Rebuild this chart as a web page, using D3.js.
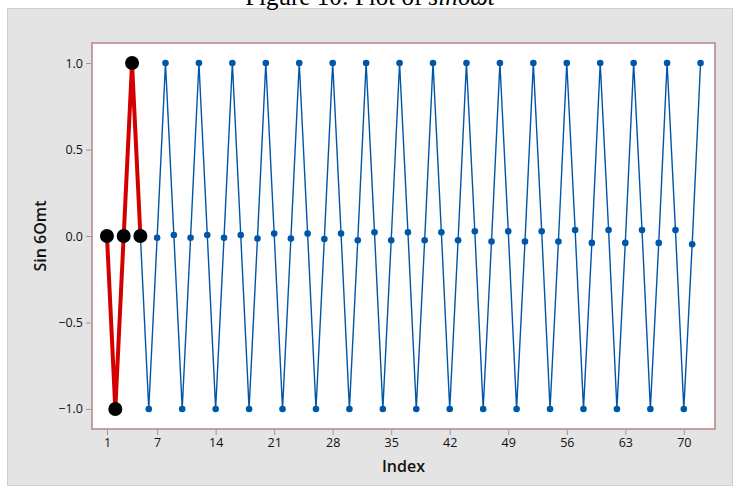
<!DOCTYPE html>
<html>
<head>
<meta charset="utf-8">
<script src="https://cdn.jsdelivr.net/npm/d3@7"></script>
<style>
  body { margin: 0; background: #fff; }
  svg { display: block; }
  text { font-family: "Open Sans", "Noto Sans", sans-serif; }
</style>
</head>
<body>
<script>
// values, index 1..72
const values = [
    0, -1, 0, 1, 0, -1, -0.01, 1, 0.006, -1, -0.01, 1,
    0.006, -1, -0.01, 1, 0.006, -1, -0.015, 1, 0.014, -1, -0.015, 1,
    0.014, -1, -0.017, 1, 0.014, -1, -0.025, 1, 0.021, -1, -0.025, 1,
    0.021, -1, -0.025, 1, 0.021, -1, -0.025, 1, 0.027, -1, -0.032, 1,
    0.027, -1, -0.032, 1, 0.027, -1, -0.032, 1, 0.035, -1, -0.04, 1,
    0.035, -1, -0.04, 1, 0.035, -1, -0.04, 1, 0.035, -1, -0.048, 1
];
const highlightCount = 5;   // first points drawn in red
const xTicks = [1, 7, 14, 21, 28, 35, 42, 49, 56, 63, 70];
const yTicks = [-1.0, -0.5, 0.0, 0.5, 1.0];

const width = 738, height = 493;
const frame = {left: 92, top: 43, right: 715, bottom: 429};

const data = values.map((v, i) => ({index: i + 1, value: v}));

const svg = d3.select('body').append('svg')
    .attr('width', width)
    .attr('height', height);

// grey panel
svg.append('rect')
    .attr('x', 7.5).attr('y', 8.5)
    .attr('width', 725).attr('height', 477)
    .attr('fill', '#e4e4e4')
    .attr('stroke', '#d0d0d0');

// partly hidden caption
svg.append('text')
    .attr('x', 370).attr('y', 5)
    .attr('text-anchor', 'middle')
    .style('font-family', '"Liberation Serif", "DejaVu Serif", serif')
    .style('font-size', '25px')
    .text('Figure 10: Plot of ')
    .append('tspan').style('font-style', 'italic').text('sin6ωt');

const x = d3.scaleLinear().domain([-0.79, 73.73]).range([frame.left, frame.right]);
const y = d3.scaleLinear().domain([-1.116, 1.116]).range([frame.bottom, frame.top]);

svg.append('rect')
    .attr('x', frame.left).attr('y', frame.top)
    .attr('width', frame.right - frame.left).attr('height', frame.bottom - frame.top)
    .attr('fill', '#fff')
    .attr('stroke', '#b48484')
    .attr('stroke-width', 1.5);

// axes
const xAxis = svg.append('g')
    .attr('transform', `translate(0,${frame.bottom + 1})`)
    .call(d3.axisBottom(x).tickValues(xTicks).tickSize(5).tickPadding(3));
const yAxis = svg.append('g')
    .attr('transform', `translate(${frame.left - 1},0)`)
    .call(d3.axisLeft(y).tickValues(yTicks).tickSize(5).tickPadding(3).tickFormat(d3.format('.1f')));
[xAxis, yAxis].forEach(g => {
    g.select('.domain').remove();
    g.selectAll('.tick line').attr('stroke', '#999');
    g.selectAll('.tick text')
        .attr('fill', '#111')
        .style('font-family', '"Open Sans", "Noto Sans", sans-serif')
        .style('font-size', '12.5px');
});

svg.append('text')
    .attr('x', (frame.left + frame.right) / 2)
    .attr('y', 472)
    .attr('text-anchor', 'middle')
    .style('font-size', '16px')
    .style('font-weight', 600)
    .attr('fill', '#111')
    .text('Index');

svg.append('text')
    .attr('transform', `translate(46,${(frame.top + frame.bottom) / 2}) rotate(-90)`)
    .attr('text-anchor', 'middle')
    .style('font-size', '16px')
    .style('font-weight', 600)
    .attr('fill', '#111')
    .text('Sin 6Omt');

const line = d3.line().x(d => x(d.index)).y(d => y(d.value));
const first = data.slice(0, highlightCount);
const rest = data.slice(highlightCount - 1);

svg.append('path')
    .datum(rest)
    .attr('d', line)
    .attr('fill', 'none')
    .attr('stroke', '#0056a8')
    .attr('stroke-width', 1.4);

svg.selectAll('circle.blue').data(data.slice(highlightCount)).enter()
    .append('circle')
    .attr('class', 'blue')
    .attr('cx', d => x(d.index))
    .attr('cy', d => y(d.value))
    .attr('r', 3.3)
    .attr('fill', '#0056a8');

svg.append('path')
    .datum(first)
    .attr('d', line)
    .attr('fill', 'none')
    .attr('stroke', '#d40000')
    .attr('stroke-width', 4)
    .attr('stroke-linejoin', 'round');

svg.selectAll('circle.big').data(first).enter()
    .append('circle')
    .attr('class', 'big')
    .attr('cx', d => x(d.index))
    .attr('cy', d => y(d.value))
    .attr('r', 7)
    .attr('fill', '#000');
</script>
</body>
</html>
